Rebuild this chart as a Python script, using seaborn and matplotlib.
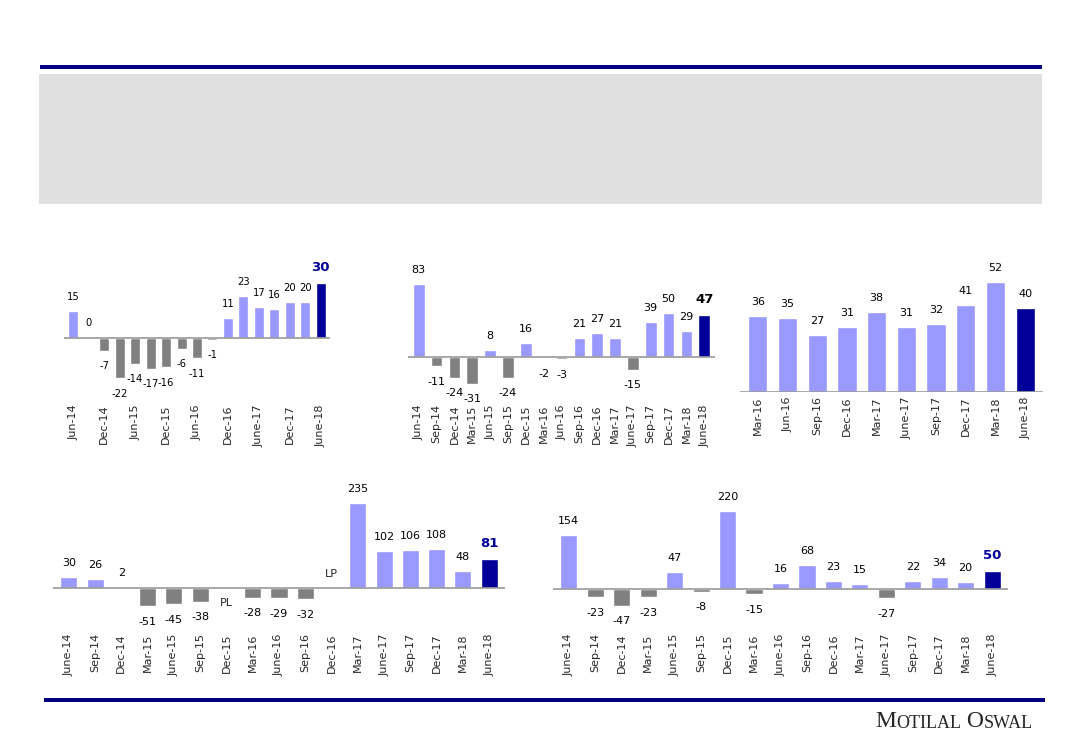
import numpy as np
import pandas as pd
import matplotlib
matplotlib.use('Agg')
import matplotlib.pyplot as plt
import seaborn as sns
from matplotlib.patches import Rectangle

sns.set_theme(style='white')
plt.rcParams['font.family'] = ['DejaVu Sans']

# ---- data ----
q1 = ['Jun-14', 'Sep-14', 'Dec-14', 'Mar-15', 'Jun-15', 'Sep-15', 'Dec-15', 'Mar-16', 'Jun-16',
      'Sep-16', 'Dec-16', 'Mar-17', 'June-17', 'Sep-17', 'Dec-17', 'Mar-18', 'June-18']
v1 = [15, 0.4, -7, -22, -14, -17, -16, -6, -11, -1, 11, 23, 17, 16, 20, 20, 30]

q2 = ['Jun-14', 'Sep-14', 'Dec-14', 'Mar-15', 'Jun-15', 'Sep-15', 'Dec-15', 'Mar-16', 'Jun-16',
      'Sep-16', 'Dec-16', 'Mar-17', 'June-17', 'Sep-17', 'Dec-17', 'Mar-18', 'June-18']
v2 = [83, -11, -24, -31, 8, -24, 16, -2, -3, 21, 27, 21, -15, 39, 50, 29, 47]

q3 = ['Mar-16', 'Jun-16', 'Sep-16', 'Dec-16', 'Mar-17', 'June-17', 'Sep-17', 'Dec-17', 'Mar-18', 'June-18']
v3 = [36, 35, 27, 31, 38, 31, 32, 41, 52, 40]

q4 = ['June-14', 'Sep-14', 'Dec-14', 'Mar-15', 'June-15', 'Sep-15', 'Dec-15', 'Mar-16', 'June-16',
      'Sep-16', 'Dec-16', 'Mar-17', 'June-17', 'Sep-17', 'Dec-17', 'Mar-18', 'June-18']
v4 = [30, 26, 2, -51, -45, -38, np.nan, -28, -29, -32, np.nan, 235, 102, 106, 108, 48, 81]
txt4 = {6: ('PL', -1), 10: ('LP', 1)}

q5 = ['June-14', 'Sep-14', 'Dec-14', 'Mar-15', 'June-15', 'Sep-15', 'Dec-15', 'Mar-16', 'June-16',
      'Sep-16', 'Dec-16', 'Mar-17', 'June-17', 'Sep-17', 'Dec-17', 'Mar-18', 'June-18']
v5 = [154, -23, -47, -23, 47, -8, 220, -15, 16, 68, 23, 15, -27, 22, 34, 20, 50]

POS = '#9999FF'
NEG = '#808080'
LAST = '#000099'
NAVY = '#000080'

W, H = 1083, 750
fig = plt.figure(figsize=(W / 100, H / 100), dpi=100)


def px_axes(x0, x1, y0, y1):
    # pixel box (top-left origin) -> figure axes
    return fig.add_axes([x0 / W, 1 - y1 / H, (x1 - x0) / W, (y1 - y0) / H])


def panel(rect, cats, vals, ylim, last_color, last_bold=True, step=1, extra=None, fs=8, lfs=8):
    ax = px_axes(*rect)
    df = pd.DataFrame({'q': cats, 'v': vals})
    n = len(df)
    cols = [POS if (v >= 0 or np.isnan(v)) else NEG for v in df['v']]
    cols[-1] = last_color
    sns.barplot(data=df, x='q', y='v', hue='q', palette=cols, legend=False,
                width=0.65, saturation=1, ax=ax)
    ax.axhline(0, color='#999999', lw=1.2, zorder=5)
    ax.set_xlim(-0.6, n - 0.4)
    ax.set_ylim(*ylim)
    for i, v in enumerate(df['v']):
        if np.isnan(v):
            continue
        lab = str(int(round(v)))
        last = i == n - 1
        color = 'black'
        weight = 'normal'
        size = lfs
        if last:
            color = last_color if last_bold == 'navy' else 'black'
            weight = 'bold' if last_bold else 'normal'
            size = fs + 1.5 if last_bold else fs
        if v >= 0:
            ax.annotate(lab, (i, v), xytext=(0, 6.5), textcoords='offset points',
                        ha='center', va='bottom', fontsize=size, color=color, fontweight=weight)
        else:
            ax.annotate(lab, (i, v), xytext=(0, -7.5), textcoords='offset points',
                        ha='center', va='top', fontsize=size, color=color, fontweight=weight)
    if extra:
        for i, (t, sgn) in extra.items():
            if sgn > 0:
                ax.annotate(t, (i, 0), xytext=(0, 6.5), textcoords='offset points',
                            ha='center', va='bottom', fontsize=fs)
            else:
                ax.annotate(t, (i, 0), xytext=(0, -7.5), textcoords='offset points',
                            ha='center', va='top', fontsize=fs)
    ticks = list(range(0, n, step))
    ax.set_xticks(ticks)
    ax.set_xticklabels([cats[i] for i in ticks], rotation=90, fontsize=fs)
    ax.tick_params(axis='x', length=0, pad=3)
    ax.set_yticks([])
    ax.set_xlabel('')
    ax.set_ylabel('')
    for s in ax.spines.values():
        s.set_visible(False)
    ax.patch.set_alpha(0)
    return ax


# top row
panel((64, 330, 262, 400), q1, v1, (-34, 41.8), LAST, last_bold='navy', step=2, lfs=7.2)
panel((408, 715, 262, 400), q2, v2, (-49.2, 107.6), LAST, last_bold=True)
panel((740, 1043, 262, 392), q3, v3, (0, 61.6), LAST, last_bold=False)
# bottom row
panel((53, 505, 490, 629), q4, v4, (-114, 272), LAST, last_bold='navy', extra=txt4)
panel((553, 1008, 490, 629), q5, v5, (-113.6, 281), LAST, last_bold='navy')

# header / footer decoration
deco = fig.add_axes([0, 0, 1, 1])
deco.set_xlim(0, W)
deco.set_ylim(H, 0)
deco.axis('off')
deco.patch.set_alpha(0)
deco.add_patch(Rectangle((40, 65), 1002, 4, color=NAVY, lw=0))
deco.add_patch(Rectangle((39, 74), 1003, 130, color='#E0E0E0', lw=0))
deco.add_patch(Rectangle((44, 698), 1001, 4, color=NAVY, lw=0))

# small-caps style logo
serif = ['Liberation Serif', 'DejaVu Serif']
big, small = 17, 13
t = deco.text(875, 727, 'M', fontsize=big, family=serif, va='baseline', ha='left')
t = deco.annotate('OTILAL', xy=(1, 0), xycoords=t, fontsize=small, family=serif, va='bottom', ha='left')
t = deco.annotate(' O', xy=(1, 0), xycoords=t, fontsize=big, family=serif, va='bottom', ha='left')
t = deco.annotate('SWAL', xy=(1, 0), xycoords=t, fontsize=small, family=serif, va='bottom', ha='left')

fig.savefig('out.png', dpi=100)
